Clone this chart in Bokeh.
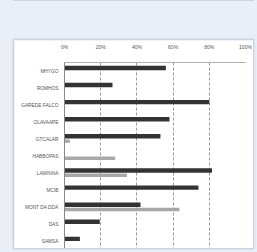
from bokeh.plotting import figure
from bokeh.models import (FactorRange, Range1d, FixedTicker, ColumnDataSource, Div,
                          GlobalInlineStyleSheet)
from bokeh.layouts import column
from bokeh.transform import dodge
from bokeh.embed import file_html
from bokeh.resources import INLINE

categories = ["MHYGO", "ROMHOS", "GAREDE FALCO", "OLAVAAPE", "GTCALAR", "HABBOPAS",
              "LAWINNA", "MCIB", "MONT DA DDA", "DAS", "SAMSA"]
dark_values = [56, 26.5, 80, 58, 53, 0, 81.5, 74, 42, 19.5, 8.5]
light_values = [0, 0, 0, 0, 3, 28, 34.5, 0, 63.5, 0, 0]
tick_values = [0, 20, 40, 60, 80, 100]
tick_labels = ["0%", "20%", "40%", "60%", "80%", "100%"]

FONT = "Liberation Sans"
BG = "#e9eef7"

source = ColumnDataSource(dict(cat=categories, dark=dark_values, light=light_values))

p = figure(width=241, height=210, output_backend="svg", toolbar_location=None,
           y_range=FactorRange(factors=categories[::-1], range_padding=0),
           x_range=Range1d(0, 100), x_axis_location="above",
           min_border_left=50, min_border_right=10, min_border_top=20, min_border_bottom=0,
           border_fill_color="white", background_fill_color="white",
           outline_line_color=None, margin=(38, 0, 0, 13),
           styles={"border": "1px solid #cfd3da", "box-shadow": "0 0 2px #c8ccd4"})

p.hbar(y=dodge("cat", -0.1, range=p.y_range), right="light", left=0, height=0.2,
       source=source, fill_color="#a8a8a8", line_color=None)
p.hbar(y=dodge("cat", 0.18, range=p.y_range), right="dark", left=0, height=0.26,
       source=source, fill_color="#333333", line_color=None)

xa = p.xaxis[0]
xa.ticker = FixedTicker(ticks=tick_values)
xa.major_label_overrides = {v: l for v, l in zip(tick_values, tick_labels)}
xa.major_label_text_font = FONT
xa.major_label_text_font_size = "5px"
xa.major_label_text_color = "#555555"
xa.major_tick_line_color = None
xa.minor_tick_line_color = None
xa.axis_line_color = "#b0b0b0"
xa.major_label_standoff = 7

ya = p.yaxis[0]
ya.major_label_text_font = FONT
ya.major_label_text_font_size = "4.8px"
ya.major_label_text_color = "#555555"
ya.major_tick_line_color = None
ya.axis_line_color = "#888888"
ya.major_label_standoff = 0

p.xgrid.ticker = FixedTicker(ticks=tick_values)
p.xgrid.grid_line_color = "#9a9a9a"
p.xgrid.grid_line_dash = "3 2"
p.ygrid.grid_line_color = None

top_box = Div(text="", width=241, height=20, margin=(-19, 0, 0, 13),
              styles={"background-color": "white", "border": "1px solid #cfd3da",
                      "box-sizing": "border-box"})

layout = column(top_box, p, stylesheets=[GlobalInlineStyleSheet(
    css="html, body { background-color: %s; margin: 0; overflow: hidden; }" % BG)])

open("out.html", "w").write(file_html(layout, INLINE))
